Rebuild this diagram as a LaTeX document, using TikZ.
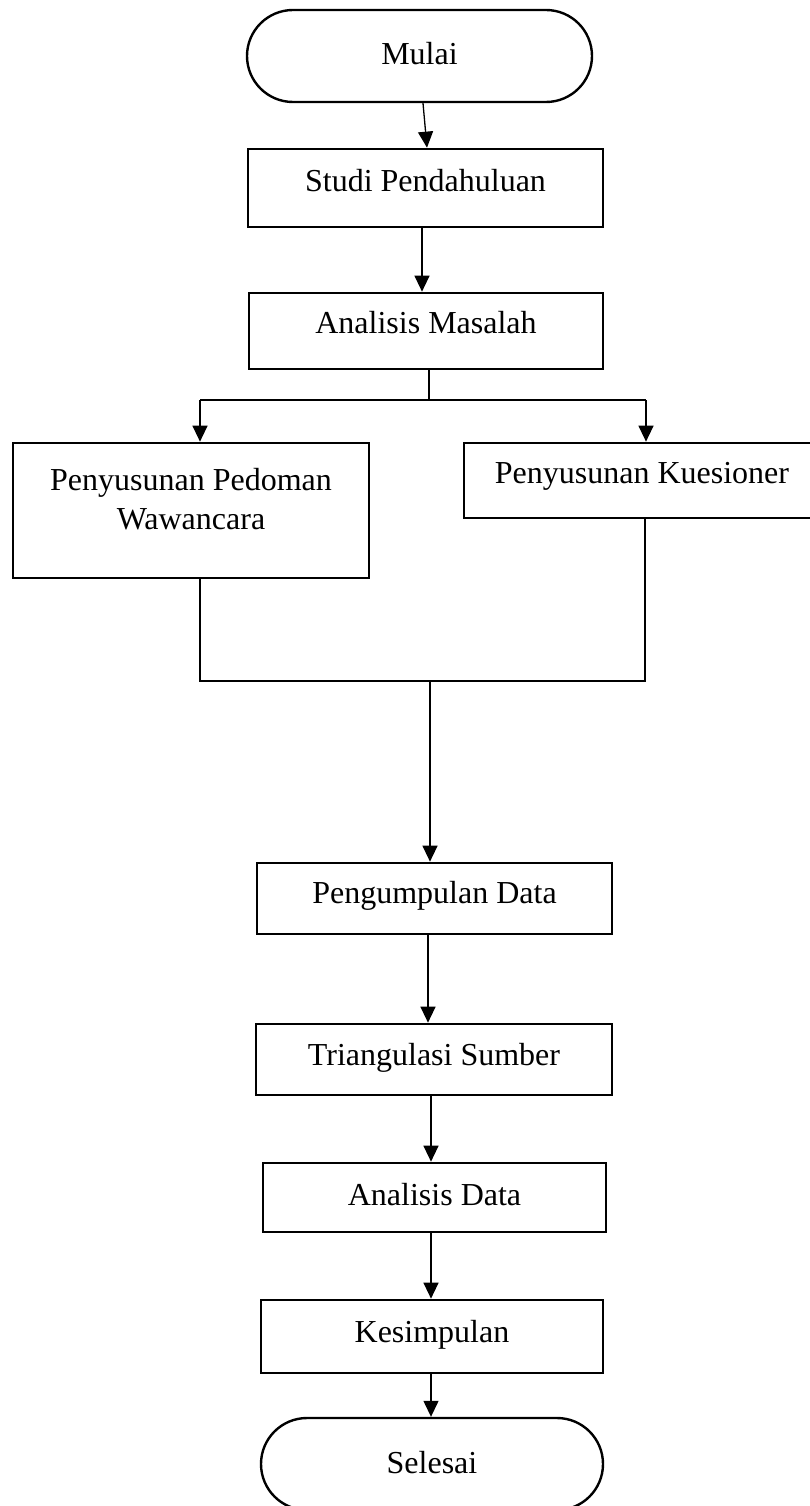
\documentclass[tikz,border=0pt]{standalone}
\usepackage{fontspec}
\setmainfont{Liberation Serif}
\usetikzlibrary{arrows.meta}
\begin{document}
\begin{tikzpicture}[x=1pt,y=-1pt,
  every node/.style={font=\fontsize{32}{39}\selectfont, inner sep=0pt},
  stepbox/.style={draw, line width=2.7pt, rectangle},
  term/.style={draw, line width=2.4pt, rectangle, rounded corners=46pt},
  conn/.style={line width=1.3pt},
  arr/.style={line width=1.3pt, -{Triangle[width=15pt,length=16pt]}}]
\fill[white] (0,0) rectangle (810,1506);
\useasboundingbox (0,0) rectangle (810,1506);

\node[term, minimum width=345pt, text height=55pt, text depth=37pt] (mulai) at (419.5,56) {Mulai};
\node[stepbox, minimum width=355pt, text height=43pt, text depth=35pt] (studi) at (425.5,188) {Studi Pendahuluan};
\node[stepbox, minimum width=354pt, text height=40pt, text depth=36pt] (am) at (426,331) {Analisis Masalah};
\node[stepbox, minimum width=356pt, text height=47pt, text depth=88pt] (ppw) at (191,510.5)
  {\setlength\tabcolsep{0pt}\begin{tabular}[t]{c}Penyusunan Pedoman\\Wawancara\end{tabular}};
\node[stepbox, minimum width=356pt, text height=40pt, text depth=35pt] (pk) at (642,480.5) {Penyusunan Kuesioner};
\node[stepbox, minimum width=355pt, text height=40pt, text depth=31pt] (pd) at (434.5,898.5) {Pengumpulan Data};
\node[stepbox, minimum width=356pt, text height=41pt, text depth=30pt] (ts) at (434,1059.5) {Triangulasi Sumber};
\node[stepbox, minimum width=343pt, text height=42pt, text depth=27pt] (ad) at (434.5,1197.5) {Analisis Data};
\node[stepbox, minimum width=342pt, text height=42pt, text depth=31pt] (ks) at (432,1336.5) {Kesimpulan};
\node[term, minimum width=342pt, text height=55pt, text depth=37pt] (sel) at (432,1464) {Selesai};

\draw[arr] ([xshift=3.5pt]mulai.south) -- ([xshift=1.5pt]studi.north);
\draw[arr] ([xshift=-3.5pt]studi.south) -- ([xshift=-3.5pt]studi.south |- am.north);

\coordinate (split) at (429,400);
\coordinate (sl) at (200,400);
\coordinate (sr) at (646,400);
\draw[conn] (split |- am.south) -- (split);
\draw[conn] (sl) -- (sr);
\draw[arr] (sl) -- (sl |- ppw.north);
\draw[arr] (sr) -- (sr |- pk.north);

\coordinate (jl) at (200,681);
\coordinate (jr) at (645,681);
\coordinate (jm) at (430,681);
\draw[conn] (jl |- ppw.south) -- (jl) -- (jr) -- (jr |- pk.south);
\draw[arr] (jm) -- (jm |- pd.north);

\draw[arr] ([xshift=-6.5pt]pd.south) -- ([xshift=-6.5pt]pd.south |- ts.north);
\draw[arr] ([xshift=-3pt]ts.south) -- ([xshift=-3pt]ts.south |- ad.north);
\draw[arr] ([xshift=-3.5pt]ad.south) -- ([xshift=-3.5pt]ad.south |- ks.north);
\draw[arr] ([xshift=-1pt]ks.south) -- ([xshift=-1pt]ks.south |- sel.north);
\end{tikzpicture}
\end{document}
